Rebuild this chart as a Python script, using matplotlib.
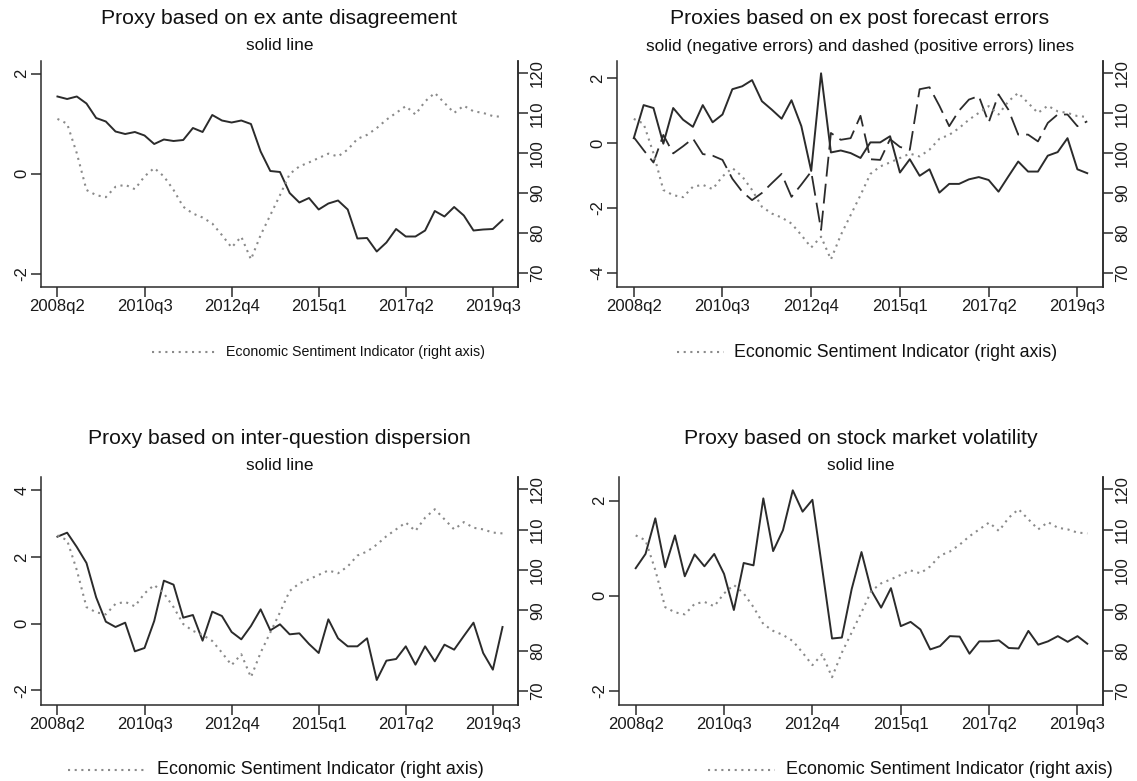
import numpy as np
import matplotlib.pyplot as plt
from matplotlib.lines import Line2D

plt.rcParams['font.family'] = ['Liberation Sans', 'DejaVu Sans']

# quarterly sample 2008q2 .. 2019q4
quarters = np.arange(47)
tick_pos = [0, 9, 18, 27, 36, 45]
tick_lab = ['2008q2', '2010q3', '2012q4', '2015q1', '2017q2', '2019q3']

esi = [108.6, 107.4, 100.0, 90.8, 89.5, 89.0, 91.6, 92.1, 91.0, 94.2,
       96.3, 94.2, 90.8, 86.6, 84.9, 83.9, 82.4, 79.5, 76.4, 79.1,
       73.4, 79.5, 84.5, 89.5, 94.8, 96.7, 97.7, 98.8, 99.9, 99.2,
       100.9, 103.6, 104.6, 106.3, 108.4, 110.1, 111.8, 109.7, 113.0, 115.1,
       112.6, 110.1, 111.9, 110.5, 110.1, 109.3, 109.1]

ex_ante = [1.54, 1.49, 1.54, 1.40, 1.11, 1.04, 0.84, 0.79, 0.83, 0.76,
           0.59, 0.68, 0.65, 0.67, 0.91, 0.83, 1.17, 1.06, 1.02, 1.06,
           0.99, 0.44, 0.05, 0.03, -0.39, -0.58, -0.49, -0.72, -0.60, -0.54,
           -0.72, -1.30, -1.29, -1.56, -1.38, -1.11, -1.26, -1.26, -1.14, -0.75,
           -0.86, -0.67, -0.84, -1.14, -1.12, -1.11, -0.93]

neg_err = [0.15, 1.17, 1.08, -0.02, 1.08, 0.72, 0.50, 1.17, 0.64, 0.88,
           1.66, 1.75, 1.94, 1.29, 1.03, 0.75, 1.32, 0.52, -0.86, 2.15,
           -0.29, -0.23, -0.31, -0.46, 0.02, 0.02, 0.21, -0.91, -0.50, -1.01,
           -0.81, -1.53, -1.26, -1.26, -1.12, -1.05, -1.14, -1.50, -1.03, -0.57,
           -0.88, -0.88, -0.39, -0.28, 0.15, -0.81, -0.93]

pos_err = [0.18, -0.22, -0.60, 0.25, -0.32, -0.10, 0.14, -0.34, -0.39, -0.52,
           -1.10, -1.50, -1.76, -1.54, -1.24, -0.95, -1.66, -1.28, -0.88, -2.68,
           0.31, 0.10, 0.15, 0.84, -0.50, -0.52, 0.12, -0.12, -0.21, 1.66,
           1.72, 1.15, 0.52, 1.00, 1.34, 1.45, 0.63, 1.50, 1.03, 0.26,
           0.26, 0.05, 0.62, 0.88, 0.88, 0.52, 0.67]

inter_q = [2.61, 2.73, 2.30, 1.82, 0.79, 0.06, -0.10, 0.03, -0.83, -0.73,
           0.08, 1.29, 1.17, 0.18, 0.26, -0.51, 0.36, 0.23, -0.25, -0.47,
           -0.07, 0.43, -0.20, -0.02, -0.32, -0.29, -0.61, -0.88, 0.13, -0.44,
           -0.68, -0.68, -0.44, -1.69, -1.11, -1.06, -0.68, -1.23, -0.68, -1.13,
           -0.63, -0.78, -0.37, 0.03, -0.88, -1.38, -0.10]

stock_vol = [0.58, 0.88, 1.63, 0.60, 1.27, 0.41, 0.87, 0.62, 0.88, 0.46,
             -0.30, 0.69, 0.64, 2.05, 0.94, 1.38, 2.22, 1.77, 2.02, 0.57,
             -0.90, -0.88, 0.14, 0.92, 0.11, -0.25, 0.16, -0.64, -0.55, -0.71,
             -1.13, -1.06, -0.85, -0.86, -1.22, -0.96, -0.96, -0.94, -1.10, -1.11,
             -0.74, -1.03, -0.96, -0.85, -0.97, -0.85, -1.01]

W, H = 1137, 781
fig = plt.figure(figsize=(W / 100, H / 100), dpi=100)

INK = '#2b2b2b'
GREY = '#8a8a8a'
DOTS = (0, (1, 2.2))


def px_rect(l, r, t, b):
    return [l / W, 1 - b / H, (r - l) / W, (b - t) / H]


def panel(rect, title, sub, series, ylim, yticks, title_dy):
    l, r, t, b = rect
    ax = fig.add_axes(px_rect(l, r, t, b))
    for ys, style in series:
        if style == 'solid':
            ax.plot(quarters, ys, color=INK, lw=1.4)
        else:
            ax.plot(quarters, ys, color=INK, lw=1.3, dashes=(11, 4))
    ax.set_xlim(-1.7, 47.6)
    ax.set_ylim(*ylim)
    ax.set_yticks(yticks)
    ax.set_yticklabels([str(v) for v in yticks], rotation=90, va='center')
    ax.set_xticks(tick_pos)
    ax.set_xticklabels(tick_lab)

    # ESI on its own right-hand scale
    ax2 = ax.twinx()
    ax2.plot(quarters, esi, color=GREY, lw=1.5, linestyle=DOTS)
    ax2.set_ylim(66.5, 123.1)
    ax2.set_yticks([70, 80, 90, 100, 110, 120])
    ax2.set_yticklabels(['70', '80', '90', '100', '110', '120'], rotation=90, va='center')

    for a in (ax, ax2):
        a.spines['top'].set_visible(False)
        for s in a.spines.values():
            s.set_color(INK)
            s.set_linewidth(1.1)
        a.tick_params(direction='out', length=7, width=1.1, color=INK,
                      labelsize=12, labelcolor='#1a1a1a', pad=1.5)
    ax2.spines['left'].set_visible(False)
    ax2.spines['bottom'].set_visible(False)

    cx = (l + r) / 2
    fig.text(cx / W, 1 - (t - 42 + title_dy) / H, title, ha='center', va='center',
             fontsize=15.2, color='#111111')
    fig.text(cx / W, 1 - (t - 15 + title_dy) / H, sub, ha='center', va='center',
             fontsize=12.4, color='#111111')
    return ax


def esi_legend(x0, x1, xt, y, size):
    fig.add_artist(Line2D([x0 / W, x1 / W], [1 - y / H, 1 - y / H],
                          transform=fig.transFigure, color=GREY, lw=1.5,
                          linestyle=DOTS))
    fig.text(xt / W, 1 - y / H, 'Economic Sentiment Indicator (right axis)',
             ha='left', va='center', fontsize=size, color='#111111')


panel((41, 518, 61, 287), 'Proxy based on ex ante disagreement', 'solid line',
      [(ex_ante, 'solid')], (-2.27, 2.25), [-2, 0, 2], 0)
panel((617, 1103, 61, 287), 'Proxies based on ex post forecast errors',
      'solid (negative errors) and dashed (positive errors) lines',
      [(neg_err, 'solid'), (pos_err, 'dashed')], (-4.44, 2.53), [-4, -2, 0, 2], 0)
panel((41, 518, 477, 705), 'Proxy based on inter-question dispersion', 'solid line',
      [(inter_q, 'solid')], (-2.44, 4.40), [-2, 0, 2, 4], 3)
panel((619, 1103, 477, 705), 'Proxy based on stock market volatility', 'solid line',
      [(stock_vol, 'solid')], (-2.30, 2.50), [-2, 0, 2], 3)

esi_legend(152, 215, 226, 352, 10.2)
esi_legend(677, 724, 734, 352, 12.8)
esi_legend(68, 146, 157, 770, 12.9)
esi_legend(708, 775, 786, 770, 12.9)

fig.savefig('out.png', dpi=100, facecolor='white')
